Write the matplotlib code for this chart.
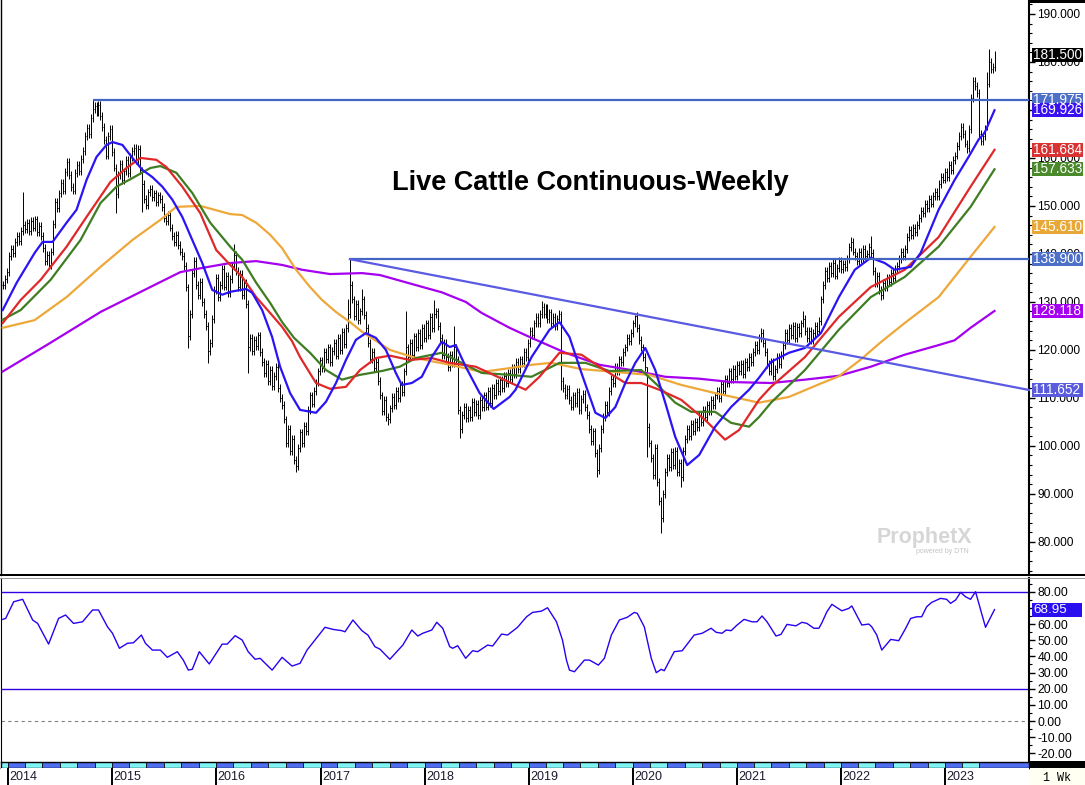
import numpy as np
import pandas as pd
import matplotlib
matplotlib.use('Agg')
import matplotlib.pyplot as plt
import matplotlib.dates as mdates
from matplotlib.ticker import MultipleLocator, FormatStrFormatter
from matplotlib.transforms import blended_transform_factory
from matplotlib.patches import Rectangle

plt.rcParams['font.family'] = ['Liberation Sans', 'DejaVu Sans']

# ---- dados (semanal, a partir da primeira barra) ----
FIRST_WEEK = '2013-12-13'

close = [
    # 0
    133.5, 134.8, 136.2, 139.5, 141.0, 140.2, 142.5, 143.8, 142.6, 144.8,
    146.0, 145.2, 146.5, 144.8, 146.9, 145.5, 147.2, 144.6, 145.9, 143.8,
    # 20
    141.2, 138.5, 139.8, 137.6, 140.5, 146.2, 150.8, 149.5, 152.6, 154.8,
    153.2, 157.0, 159.2, 156.5, 154.0, 153.2, 156.8, 158.5, 157.2, 159.8,
    # 40
    161.5, 164.5, 166.2, 165.0, 168.3, 170.2, 170.8, 169.5, 171.0, 168.8,
    166.5, 163.8, 160.5, 164.5, 166.0, 161.2, 158.0, 152.5, 156.5, 158.8,
    # 60
    155.4, 157.2, 159.5, 156.8, 160.2, 161.5, 162.0, 159.5, 161.8, 157.4,
    154.5, 151.5, 150.2, 152.8, 153.5, 151.8, 152.6, 150.8, 152.2, 151.5,
    # 80
    149.8, 147.5, 146.8, 148.2, 145.5, 143.8, 142.5, 144.0, 141.8, 140.5,
    139.6, 137.5, 133.0, 122.8, 127.5, 136.0, 138.5, 133.5, 131.5, 134.2,
    # 100
    130.0, 127.5, 125.0, 119.8, 121.5, 126.5, 132.5, 135.0, 131.0, 133.5,
    136.8, 133.2, 135.5, 131.8, 134.8, 137.5, 139.8, 136.5, 133.0, 135.8,
    # 120
    131.5, 134.0, 129.5, 120.5, 122.5, 119.8, 122.0, 120.8, 123.0, 119.5,
    117.5, 115.2, 117.0, 113.5, 115.8, 112.5, 114.5, 116.5, 112.0, 110.0,
    # 140
    108.5, 105.5, 100.5, 103.5, 99.0, 101.5, 97.0, 95.8, 99.5, 102.8,
    100.5, 104.2, 103.0, 107.5, 110.5, 108.8, 111.5, 113.2, 115.5, 117.8,
    # 160
    116.2, 119.5, 118.0, 120.5, 117.5, 119.8, 121.5, 118.8, 122.5, 120.0,
    123.8, 121.2, 124.5, 127.5, 133.5, 130.5, 127.0, 129.5, 126.2, 128.0,
    # 180
    130.5, 127.2, 124.5, 121.5, 118.0, 119.5, 116.2, 117.5, 113.5, 110.5,
    107.2, 109.5, 106.0, 105.5, 107.8, 110.2, 108.5, 111.5, 110.0, 112.8,
    # 200
    111.2, 115.5, 120.5, 118.5, 121.5, 119.0, 122.8, 120.5, 123.5, 121.0,
    124.5, 122.5, 125.5, 123.0, 126.8, 124.5, 127.5, 128.0, 125.0, 122.5,
    # 220
    119.0, 121.5, 118.5, 116.5, 119.0, 117.2, 120.5, 118.0, 107.5, 103.5,
    106.5, 108.2, 105.8, 107.5, 106.0, 109.2, 107.0, 108.8, 106.5, 109.5,
    # 240
    108.0, 110.5, 108.2, 111.5, 109.0, 112.0, 110.5, 113.2, 111.5, 113.8,
    112.0, 114.5, 113.0, 115.2, 114.0, 116.2, 115.0, 117.5, 116.0, 118.0,
    # 260
    117.2, 119.5, 118.5, 121.5, 124.0, 123.0, 125.5, 126.8, 125.5, 127.5,
    129.0, 127.5, 128.8, 126.5, 127.8, 125.5, 126.8, 125.0, 126.5, 127.5,
    # 280
    113.5, 112.0, 110.5, 111.8, 109.5, 108.2, 110.5, 109.0, 111.2, 107.5,
    109.8, 110.8, 108.0, 106.5, 103.5, 101.0, 103.0, 98.5, 95.0, 99.5,
    # 300
    103.5, 106.0, 108.5, 107.0, 111.5, 114.0, 113.0, 116.5, 115.5, 118.0,
    117.5, 119.5, 120.5, 122.5, 121.8, 123.5, 125.5, 127.0, 124.5, 122.0,
    # 320
    120.5, 118.5, 116.5, 104.0, 100.5, 97.5, 94.0, 99.5, 92.5, 88.5,
    85.0, 90.0, 94.5, 97.5, 95.5, 98.8, 96.0, 99.0, 94.5, 96.5,
    # 340
    93.5, 99.0, 101.5, 103.5, 102.0, 104.5, 103.0, 105.0, 104.0, 106.5,
    105.0, 107.5, 106.0, 108.5, 107.2, 109.5, 108.5, 110.5, 111.5, 110.0,
    # 360
    112.8, 111.5, 114.0, 113.0, 115.5, 114.0, 116.0, 114.5, 116.8, 115.5,
    117.0, 115.0, 117.5, 116.5, 118.5, 117.5, 119.5, 121.0, 120.0, 122.5,
    # 380
    123.5, 121.5, 119.5, 117.0, 115.5, 117.5, 114.5, 116.0, 118.5, 117.0,
    119.0, 121.0, 123.5, 122.0, 124.5, 123.0, 125.0, 122.5, 124.8, 123.5,
    # 400
    125.5, 126.5, 124.0, 122.5, 124.0, 122.0, 123.5, 125.0, 124.0, 126.0,
    130.5, 133.5, 136.5, 135.0, 137.5, 136.0, 138.2, 135.5, 137.0, 138.5,
    # 420
    136.8, 138.0, 137.2, 139.0, 141.5, 142.5, 140.5, 139.5, 138.5, 140.5,
    139.0, 141.0, 139.5, 140.0, 141.5, 140.2, 136.5, 134.0, 135.5, 132.5,
    # 440
    131.5, 134.0, 133.0, 135.0, 134.2, 136.0, 135.0, 136.8, 137.5, 139.0,
    140.5, 139.5, 141.0, 143.5, 145.0, 144.0, 145.5, 144.5, 146.0, 147.5,
    # 460
    149.0, 148.5, 150.5, 149.5, 151.5, 150.5, 152.0, 153.0, 152.0, 154.5,
    156.0, 155.5, 157.0, 156.0, 158.5, 157.5, 159.5, 160.5, 162.5, 164.5,
    # 480
    166.5, 165.0, 163.0, 162.0, 166.0, 172.5, 176.0, 175.0, 173.5, 165.0,
    163.5, 164.5, 166.0, 175.5, 180.0, 178.5, 179.0, 181.5,
]

# semanas com maxima/minima fora do normal: semana -> (maxima, minima)
spikes = {
    10: (153.0, None), 45: (171.975, None), 57: (None, 148.5), 70: (None, 148.7),
    93: (None, 120.4), 103: (None, 117.3), 116: (142.0, None), 123: (None, 115.2),
    147: (None, 94.6), 173: (130.5, None), 174: (138.9, None), 180: (132.6, None),
    193: (None, 104.4), 202: (128.0, None), 216: (130.4, None), 226: (125.0, None),
    229: (None, 101.7), 270: (130.2, None), 280: (128.0, 111.7), 298: (None, 93.5),
    317: (127.3, None), 323: (116.5, 97.7), 330: (None, 81.9), 340: (None, 91.5),
    380: (124.6, None), 401: (128.0, None), 425: (143.6, None), 435: (143.8, None),
    440: (None, 130.4), 483: (None, 161.0), 493: (178.0, 165.8), 494: (182.7, None),
}
WICK = 0.8

# medias moveis (semana, valor)
blue_wk = [0, 7, 16, 20, 25, 32, 37, 42, 47, 52, 55, 60, 65, 70, 75, 80, 85, 90, 95,
           100, 105, 110, 114, 122, 125, 130, 135, 139, 144, 149, 157, 162, 167, 172, 177,
           182, 187, 192, 197, 200, 205, 210, 215, 220, 224, 227, 232, 239, 246, 254,
           257, 265, 274, 279, 284, 290, 297, 302, 307, 312, 317, 322, 327, 332, 337,
           343, 349, 357, 365, 374, 379, 385, 394, 402, 410, 419, 427, 435, 442, 447,
           455, 460, 469, 477, 484, 489, 492, 497]
blue_val = [128.3, 134.0, 140.2, 142.5, 142.5, 146.5, 149.2, 155.4, 160.2, 162.7, 163.3,
            162.7, 160.0, 157.5, 156.0, 154.0, 151.3, 147.7, 142.9, 138.1, 132.5, 131.5,
            132.1, 132.7, 131.9, 128.3, 122.7, 116.5, 111.0, 107.5, 106.9, 109.2, 113.1,
            117.9, 122.1, 123.5, 122.5, 120.0, 115.2, 112.7, 113.1, 114.4, 118.5, 121.7,
            120.6, 121.0, 116.5, 111.0, 107.7, 110.2, 111.7, 118.5, 124.2, 125.8, 122.7,
            115.2, 106.9, 105.8, 108.1, 113.1, 117.3, 120.4, 115.8, 109.0, 101.9, 96.0,
            98.1, 104.0, 108.1, 111.7, 114.2, 117.5, 119.4, 120.4, 123.5, 131.0, 136.7,
            139.2, 138.1, 136.7, 137.3, 140.2, 149.2, 155.4, 160.2, 163.8, 165.2, 169.926]

red_wk = [0, 9, 19, 32, 42, 54, 62, 69, 77, 82, 90, 99, 107, 114, 120, 127, 134, 140,
          145, 149, 157, 164, 172, 179, 187, 194, 204, 215, 224, 237, 249, 262, 269, 279,
          290, 299, 312, 320, 329, 340, 352, 362, 369, 379, 385, 402, 419, 435, 452, 469,
          485, 497]
red_val = [125.6, 130.4, 134.6, 141.5, 147.7, 155.0, 157.9, 160.0, 159.6, 158.1, 154.0,
           148.5, 140.8, 137.7, 135.2, 131.0, 127.7, 124.8, 121.8, 118.5, 113.1, 111.9,
           112.3, 115.8, 118.3, 118.8, 117.9, 118.3, 117.3, 116.5, 114.2, 111.7, 114.4,
           119.4, 119.0, 116.5, 113.1, 113.1, 111.7, 109.6, 105.4, 101.3, 103.3, 109.6,
           112.3, 118.5, 126.9, 133.1, 136.7, 143.5, 154.0, 161.684]

green_wk = [0, 9, 24, 39, 49, 57, 65, 74, 79, 87, 95, 104, 114, 120, 127, 134, 140, 146,
            154, 162, 170, 179, 190, 199, 207, 220, 229, 240, 254, 265, 279, 292, 304, 320,
            329, 337, 345, 357, 365, 374, 379, 385, 402, 419, 435, 452, 469, 485, 497]
green_val = [126.3, 128.3, 134.6, 142.9, 150.6, 154.0, 155.8, 157.9, 158.3, 156.9, 152.7,
             146.5, 141.5, 138.8, 134.0, 129.8, 125.8, 122.5, 119.4, 115.8, 113.8, 114.8,
             115.6, 116.5, 118.3, 119.4, 117.5, 115.2, 114.8, 114.4, 117.3, 117.3, 115.6,
             115.8, 112.3, 109.0, 107.1, 107.1, 104.8, 104.0, 106.0, 109.0, 115.8, 124.2,
             131.0, 135.2, 141.5, 149.8, 157.633]

orange_wk = [0, 16, 32, 49, 65, 79, 87, 99, 114, 120, 127, 134, 140, 147, 154, 160, 167,
             174, 180, 194, 207, 224, 240, 254, 265, 275, 290, 307, 324, 340, 357, 379,
             394, 410, 419, 430, 440, 452, 469, 485, 497]
orange_val = [124.6, 126.2, 131.0, 137.3, 142.9, 147.1, 149.8, 150.0, 148.3, 148.1, 146.5,
              144.0, 141.2, 136.7, 133.1, 130.4, 127.9, 125.8, 123.8, 120.0, 118.3, 116.9,
              115.4, 116.2, 116.9, 117.3, 116.0, 115.4, 114.8, 112.7, 111.0, 109.0, 110.2,
              113.0, 114.5, 118.0, 121.6, 125.6, 131.0, 139.4, 145.61]

purple_wk = [0, 24, 49, 74, 89, 99, 114, 127, 140, 150, 164, 180, 189, 207, 220, 232,
             240, 254, 265, 282, 299, 315, 332, 349, 365, 385, 402, 419, 435, 452, 469,
             477, 485, 497]
purple_val = [115.5, 121.5, 127.9, 133.1, 136.2, 137.0, 138.1, 138.5, 137.7, 136.7, 135.8,
              136.0, 135.6, 133.5, 132.0, 130.0, 127.7, 124.6, 122.5, 119.4, 116.9, 115.8,
              114.4, 114.0, 113.3, 113.1, 113.8, 114.6, 116.5, 119.0, 121.0, 122.0, 124.6,
              128.118]

# indicador inferior (semana, valor)
rsi_wk = [0, 1.5, 5.5, 10, 15, 17.5, 23, 28, 31.5, 35.5, 40, 45, 48, 52.5, 55, 58.5, 62.5,
          65.5, 69.5, 71.5, 75, 79, 82.5, 87.5, 90.5, 93, 95, 98.5, 103.5, 110, 112.5,
          116.5, 120, 123, 126.5, 129, 135, 140, 145, 149, 152.5, 161.5, 165.5, 170, 171.5,
          175.5, 180, 183, 186.5, 189, 194, 200.5, 205, 208, 210.5, 215, 217.5, 220.5, 224,
          225.5, 228, 232, 235.5, 238, 243, 245.5, 250, 253, 258, 262.5, 265.5, 270, 273,
          277.5, 280.5, 282.5, 284, 286.5, 291.5, 294, 295.5, 298.5, 301.5, 305, 309, 313,
          316.5, 318, 321.5, 325, 327.5, 330, 331.5, 336.5, 340.5, 346.5, 350.5, 355,
          357.5, 360.5, 362.5, 365, 368, 371.5, 375.5, 378, 380.5, 383, 387.5, 390, 393,
          397.5, 400.5, 403, 406.5, 409, 410.5, 413, 415.5, 420.5, 424, 425.5, 430.5, 434,
          435.5, 438, 440.5, 445, 449, 452.5, 455, 458, 460.5, 463, 465.5, 470, 473, 475,
          477.5, 480, 482.5, 485, 487.5, 492.5, 497]
rsi_val = [62.9, 63.5, 73.8, 75.3, 62.5, 60.4, 47.6, 63.5, 65.6, 60.4, 61.4, 68.7, 68.7,
           58.3, 54.3, 45.0, 48.1, 48.4, 53.2, 48.1, 43.9, 43.9, 39.4, 42.9, 37.7, 31.5,
           32.0, 42.9, 35.3, 47.6, 47.6, 52.8, 50.1, 42.9, 38.2, 38.8, 31.5, 39.4, 34.0,
           35.7, 43.9, 58.0, 56.7, 55.9, 55.2, 62.5, 55.9, 53.2, 46.0, 44.5, 38.2, 47.0,
           56.3, 52.6, 54.3, 56.3, 61.1, 57.4, 46.0, 45.0, 46.6, 38.8, 43.5, 42.9, 47.0,
           46.4, 53.8, 53.2, 58.0, 64.5, 67.2, 68.0, 70.1, 61.4, 50.1, 37.7, 31.5, 30.5,
           37.7, 37.7, 36.7, 34.6, 38.8, 53.2, 62.5, 64.2, 67.2, 66.6, 58.3, 38.8, 29.9,
           32.0, 31.1, 42.9, 43.5, 53.2, 54.3, 57.4, 54.9, 54.3, 56.3, 55.9, 59.4, 62.9,
           61.4, 61.4, 65.0, 61.4, 52.6, 53.6, 59.8, 58.9, 61.1, 60.4, 57.4, 57.4, 60.8,
           67.6, 72.2, 68.2, 69.7, 71.2, 59.4, 60.0, 58.3, 53.2, 43.9, 50.5, 49.7, 57.4,
           63.5, 64.5, 64.5, 70.7, 73.4, 75.9, 75.3, 72.8, 74.9, 79.6, 76.9, 75.3, 80.0,
           58.0, 68.95]

# linhas desenhadas no grafico
res_high = (45, 171.975)
res_mid = (174, 138.9)
trend_end = 111.652

tags = [(181.5, '#000000'), (171.975, '#4d6fc8'), (169.926, '#3a12f2'),
        (161.684, '#d83232'), (157.633, '#4a8a2a'), (145.61, '#e8a838'),
        (138.9, '#4d6fc8'), (128.118, '#a500f0'), (111.652, '#5b5bdd')]
rsi_tag = 68.95
years = list(range(2014, 2024))

# ---- eixo do tempo ----
t0 = mdates.date2num(pd.Timestamp(FIRST_WEEK))
def wk(i):
    return t0 + 7 * np.asarray(i, dtype=float)

x_left = mdates.date2num(pd.Timestamp('2013-12-07'))
x_right = mdates.date2num(pd.Timestamp('2023-10-22'))

n = len(close)
c = np.array(close)
o = np.concatenate([[c[0]], c[:-1]])
hi = np.maximum(o, c) + WICK
lo = np.minimum(o, c) - WICK
for k, (h, l) in spikes.items():
    if h is not None:
        hi[k] = h
    if l is not None:
        lo[k] = l
xs = wk(np.arange(n))

# ---- figura ----
W, H = 1085, 785
fig = plt.figure(figsize=(W / 100, H / 100), dpi=100)
fig.patch.set_facecolor('white')

def box(x0, y0, x1, y1):
    return [x0 / W, 1 - y1 / H, (x1 - x0) / W, (y1 - y0) / H]

ax = fig.add_axes(box(1, 0, 1029, 575))
ax_r = fig.add_axes(box(1, 578, 1029, 761))
ax_d = fig.add_axes(box(1, 762, 1029, 768))
ax_y = fig.add_axes(box(1, 768, 1029, 785))

for a in (ax, ax_r, ax_d, ax_y):
    a.set_xlim(x_left, x_right)
    a.set_xticks([])

# barras de preco
ax.vlines(xs, lo, hi, color='black', lw=0.7, zorder=2)
ax.hlines(c, xs, xs + 3.2, color='black', lw=0.7, zorder=2)
ax.hlines(o, xs - 3.2, xs, color='black', lw=0.7, zorder=2)

# medias moveis
ax.plot(wk(purple_wk), purple_val, color='#a500f0', lw=1.6, zorder=3)
ax.plot(wk(orange_wk), orange_val, color='#eea83a', lw=1.6, zorder=3)
ax.plot(wk(green_wk), green_val, color='#3f7d22', lw=1.6, zorder=3)
ax.plot(wk(red_wk), red_val, color='#e02828', lw=1.6, zorder=3)
ax.plot(wk(blue_wk), blue_val, color='#2a14f5', lw=1.6, zorder=3)

# linhas horizontais e tendencia
ax.hlines(res_high[1], wk(res_high[0]), x_right, color='#4466c2', lw=1.6, zorder=4)
ax.hlines(res_mid[1], wk(res_mid[0]), x_right, color='#4466c2', lw=1.6, zorder=4)
ax.plot([wk(res_mid[0]), x_right], [res_mid[1], trend_end], color='#5a5ae2', lw=1.6,
        zorder=4, clip_on=False)

ax.set_ylim(73.1, 192.9)
ax.yaxis.tick_right()
ax.yaxis.set_major_locator(MultipleLocator(10))
ax.yaxis.set_minor_locator(MultipleLocator(2))
ax.yaxis.set_major_formatter(FormatStrFormatter('%.3f'))
ax.tick_params(axis='y', which='major', length=4, width=1, labelsize=8.6, pad=2,
               colors='black')
ax.tick_params(axis='y', which='minor', length=2, width=0.8)
for s in ('top', 'bottom'):
    ax.spines[s].set_visible(False)
ax.spines['right'].set_linewidth(1.5)
ax.spines['left'].set_linewidth(1.0)

fig.text(590 / W, 1 - 183 / H, 'Live Cattle Continuous-Weekly', ha='center', va='center',
         fontsize=19.5, fontweight='bold', color='black')

# marca d'agua
fig.text(877 / W, 1 - 543 / H, 'ProphetX', fontsize=15.5, fontweight='bold',
         color='#d6d6d6', ha='left', va='baseline')
fig.text(969 / W, 1 - 553 / H, 'powered by DTN', fontsize=5, color='#c4c4c4',
         ha='right', va='baseline')

# etiquetas de valor no eixo direito (caixa de largura fixa)
TAG_X0 = (1032 - 1) / 1028
TAG_W = 51 / 1028
TEXT_X = (1033.5 - 1) / 1028
trans = blended_transform_factory(ax.transAxes, ax.transData)
tag_h = 14 / 4.8
for v, col in tags:
    ax.add_patch(Rectangle((TAG_X0, v - tag_h / 2), TAG_W, tag_h, transform=trans,
                           fc=col, ec='none', clip_on=False, zorder=6))
    ax.text(TEXT_X, v, f'{v:.3f}', transform=trans, ha='left', va='center',
            color='white', fontsize=9.8, zorder=7, clip_on=False)

# painel inferior
ax_r.plot(wk(rsi_wk), rsi_val, color='#2a00f0', lw=1.0)
ax_r.axhline(80, color='#3300e6', lw=1.0)
ax_r.axhline(20, color='#3300e6', lw=1.0)
ax_r.axhline(0, color='#808080', lw=0.8, dashes=(3, 3))
ax_r.set_ylim(-24.75, 88.5)
ax_r.yaxis.tick_right()
ax_r.yaxis.set_major_locator(MultipleLocator(10))
ax_r.yaxis.set_minor_locator(MultipleLocator(5))
ax_r.yaxis.set_major_formatter(FormatStrFormatter('%.2f'))
ax_r.tick_params(axis='y', which='major', length=4, width=1, labelsize=8.8, pad=2)
ax_r.tick_params(axis='y', which='minor', length=2, width=0.8)
for s in ('top', 'bottom'):
    ax_r.spines[s].set_visible(False)
ax_r.spines['right'].set_linewidth(1.5)
trans_r = blended_transform_factory(ax_r.transAxes, ax_r.transData)
rsi_h = 14 / 1.616
ax_r.add_patch(Rectangle((TAG_X0, rsi_tag - rsi_h / 2), 50 / 1028, rsi_h,
                         transform=trans_r, fc='#2a10f0', ec='none', clip_on=False,
                         zorder=6))
ax_r.text(TEXT_X, rsi_tag, f'{rsi_tag:.2f}', transform=trans_r, ha='left', va='center',
          color='white', fontsize=9.6, zorder=7, clip_on=False)

# faixa de meses (bimestral)
ax_d.set_ylim(0, 1)
ax_d.set_yticks([])
ax_d.set_facecolor('#4f6ef0')
starts = pd.date_range('2013-11-01', '2023-05-01', freq='2MS')
for st in starts:
    a0 = max(mdates.date2num(st), x_left)
    nxt = mdates.date2num(st + pd.DateOffset(months=2))
    a1 = x_right if st == starts[-1] else min(nxt, x_right)
    col = '#7ff4f4' if st.month in (3, 7, 11) else '#4f6ef0'
    ax_d.add_patch(Rectangle((a0, 0), a1 - a0, 1, fc=col, ec='black', lw=0.5))
for s in ax_d.spines.values():
    s.set_linewidth(1.0)

# linha dos anos
ax_y.set_ylim(0, 1)
ax_y.set_yticks([])
for s in ax_y.spines.values():
    s.set_visible(False)
for y in years:
    xd = mdates.date2num(pd.Timestamp(f'{y}-01-01'))
    ax_y.axvline(xd, color='black', lw=1.4)
    ax_y.text(xd + 5, 0.1, str(y), fontsize=9, color='#1a1a2e', ha='left', va='bottom')

# detalhes da moldura
fig.add_artist(Rectangle((0, 1 - 576 / H), 1, 2 / H, transform=fig.transFigure,
                         fc='black', ec='none'))
fig.add_artist(Rectangle((0, 1 - 578.5 / H), 1, 1 / H, transform=fig.transFigure,
                         fc='#999999', ec='none'))
fig.add_artist(Rectangle((1029 / W, 1 - 768 / H), 56 / W, 7 / H, transform=fig.transFigure,
                         fc='black', ec='none'))
fig.add_artist(Rectangle((1029 / W, 1 - 3 / H), 56 / W, 3 / H, transform=fig.transFigure,
                         fc='black', ec='none'))
fig.add_artist(Rectangle((1030 / W, 0), 55 / W, 17 / H, transform=fig.transFigure,
                         fc='#fffff2', ec='none'))
fig.text(1043 / W, 1 - 781 / H, '1 Wk', family=['Liberation Mono', 'DejaVu Sans Mono'],
         fontsize=8.5, color='black', ha='left', va='baseline')

fig.savefig('out.png', dpi=100)
